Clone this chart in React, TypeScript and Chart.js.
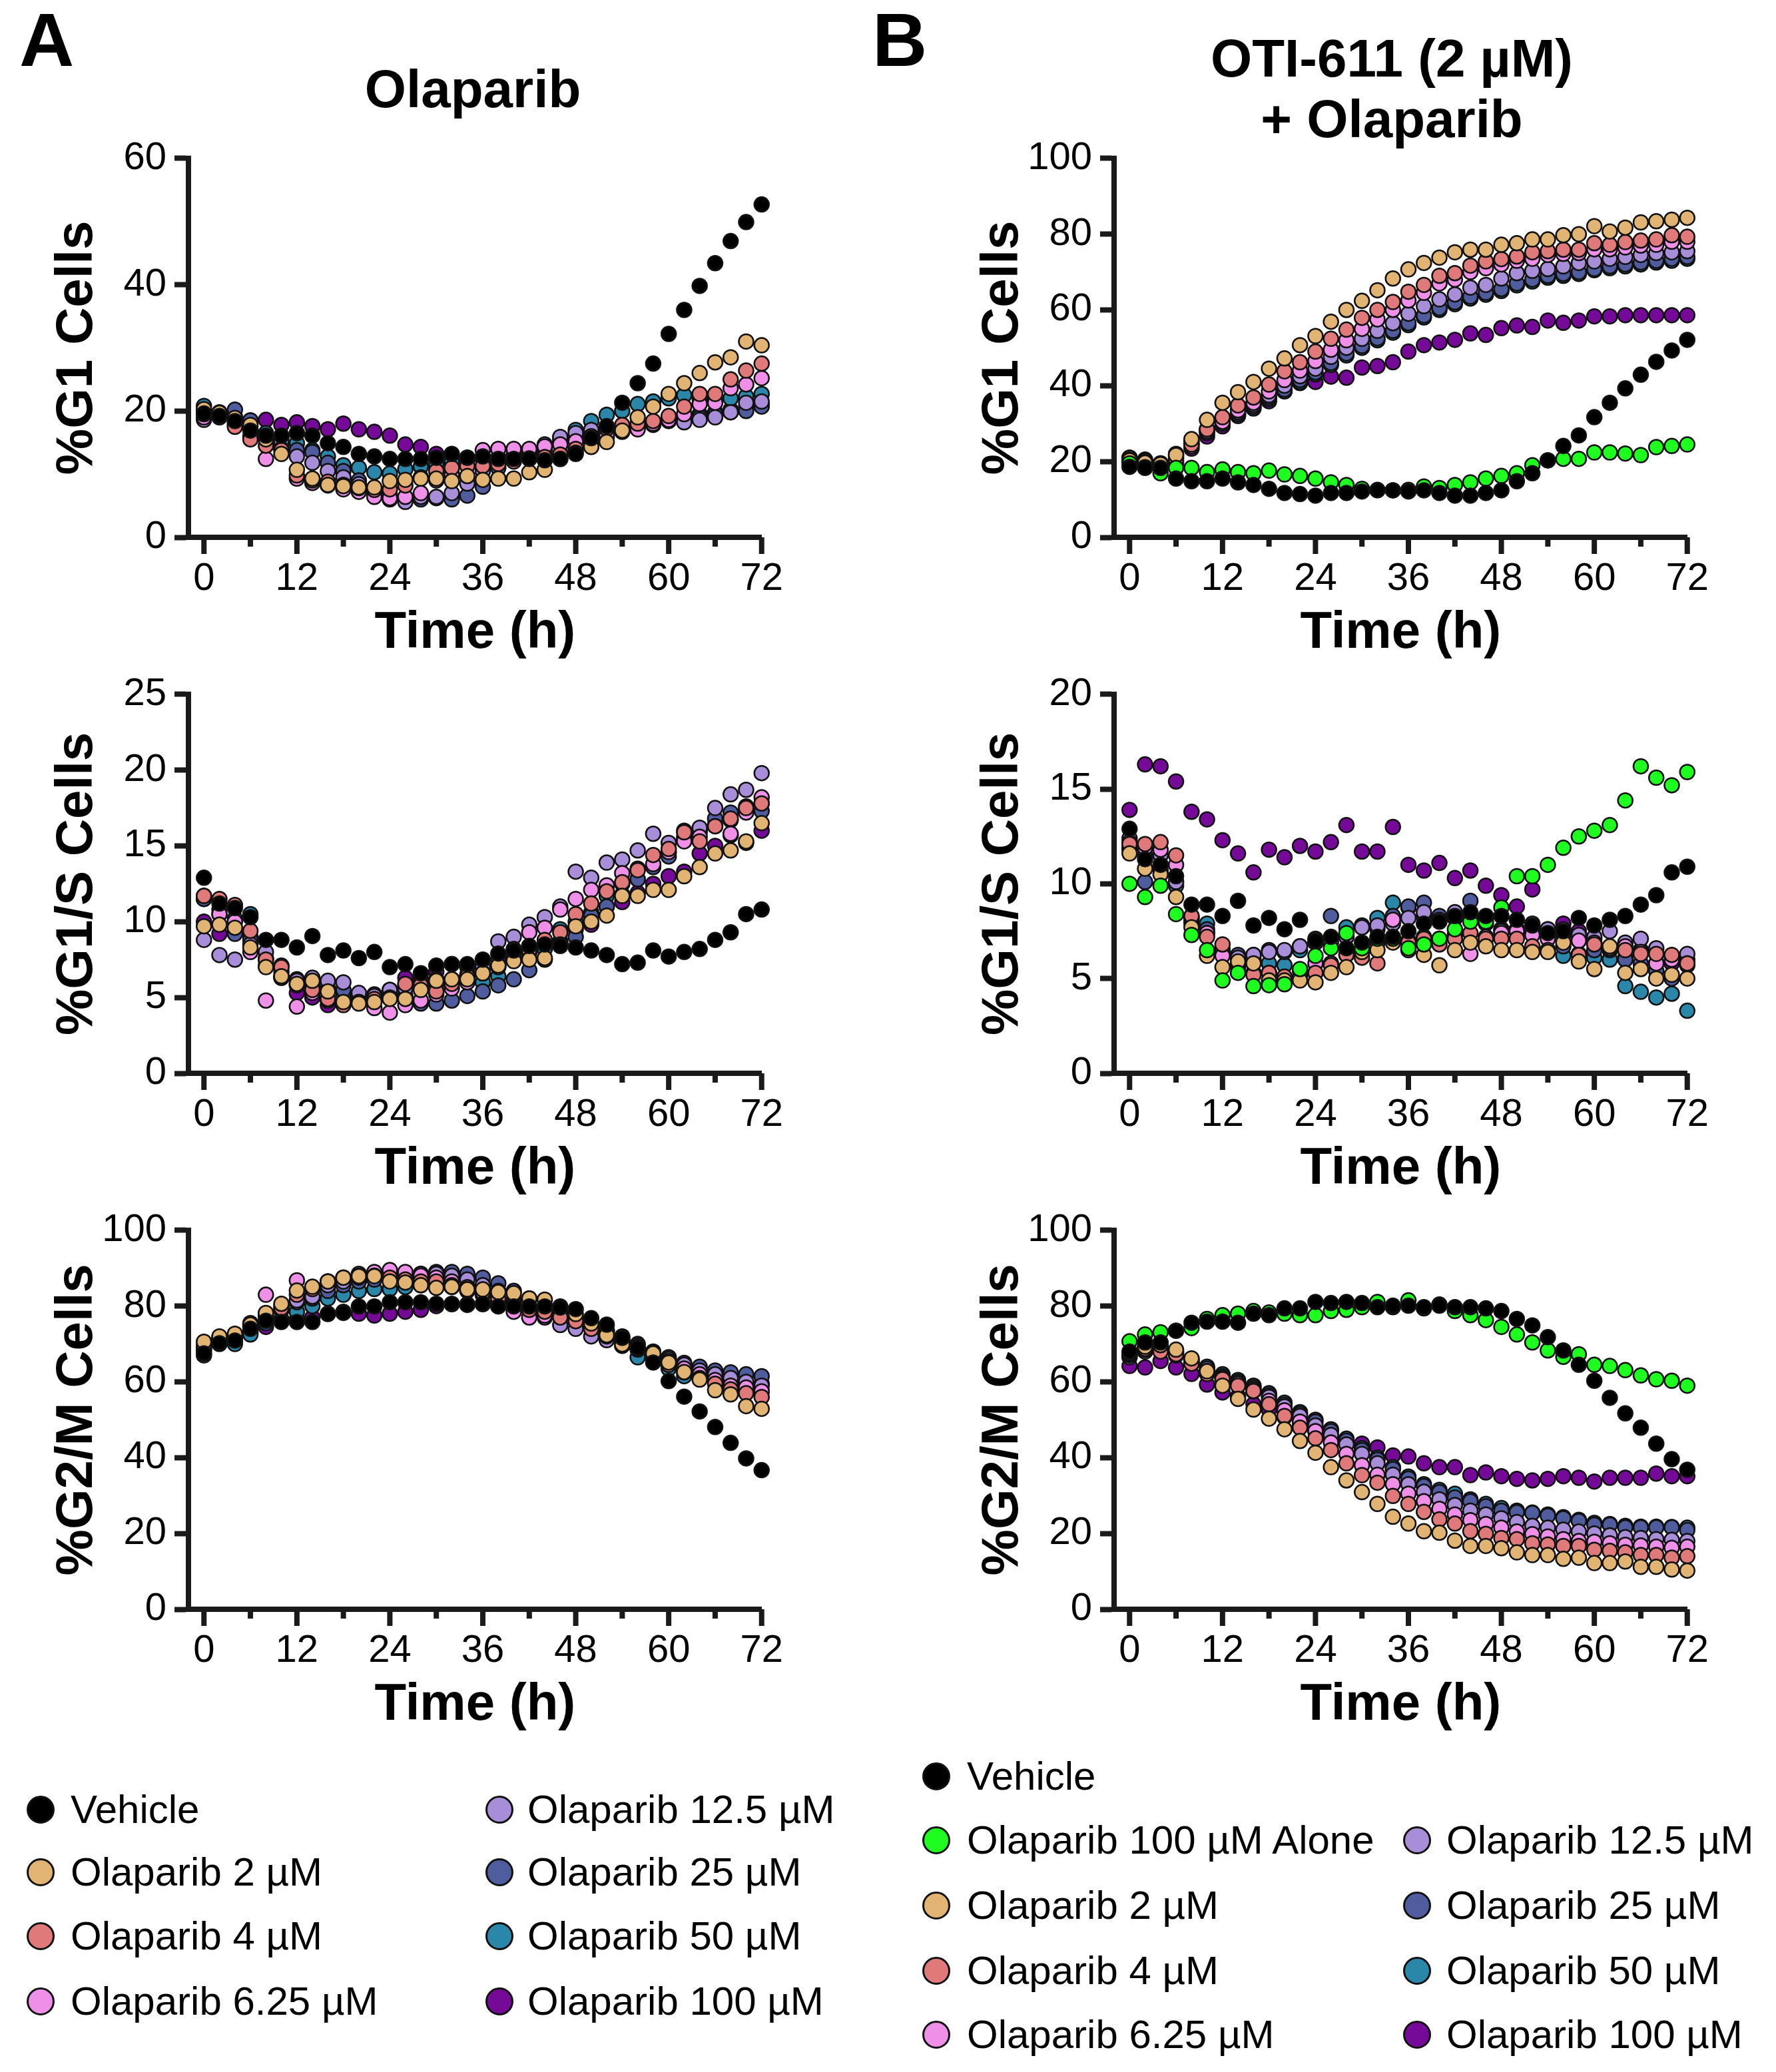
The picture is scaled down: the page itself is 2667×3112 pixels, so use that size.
import { useEffect, useRef } from "react";
import Chart from "chart.js/auto";

// time points (h) and axis ticks
const hours = [0, 2, 4, 6, 8, 10, 12, 14, 16, 18, 20, 22, 24, 26, 28, 30, 32, 34, 36, 38, 40, 42, 44, 46, 48, 50, 52, 54, 56, 58, 60, 62, 64, 66, 68, 70, 72];
const xTicks = [0, 6, 12, 18, 24, 30, 36, 42, 48, 54, 60, 66, 72];
const yTicksG1A = [0, 20, 40, 60];
const yTicksG1SA = [0, 5, 10, 15, 20, 25];
const yTicksG1SB = [0, 5, 10, 15, 20];
const yTicks100 = [0, 20, 40, 60, 80, 100];

// A: Olaparib alone — %G1
const aG1Vehicle = [19.6, 19.2, 18.4, 16.9, 16.1, 16.1, 16.5, 16.1, 14.9, 14.3, 13.2, 12.8, 12.4, 12.4, 12.4, 12.6, 13.2, 12.6, 12.8, 12.4, 12.4, 12.4, 12.2, 12.4, 13.2, 15.7, 17.6, 21.3, 24.4, 27.5, 32.2, 36.0, 39.8, 43.4, 46.9, 49.9, 52.7];
const aG1Ola2 = [20.3, 19.7, 18.9, 17.8, 15.5, 13.2, 10.7, 9.3, 8.3, 8.1, 7.9, 7.9, 8.9, 9.1, 9.3, 9.3, 8.9, 9.7, 9.1, 9.3, 9.3, 10.3, 10.7, 12.4, 13.4, 14.3, 15.1, 16.9, 19.0, 20.7, 22.7, 24.4, 26.0, 27.7, 28.5, 31.0, 30.4];
const aG1Ola4 = [19.5, 19.5, 17.5, 15.5, 14.5, 13.8, 9.8, 9.0, 8.8, 8.3, 7.8, 7.5, 7.6, 8.2, 9.5, 10.5, 11.0, 11.3, 11.3, 11.6, 12.0, 12.5, 12.7, 13.1, 14.0, 16.0, 17.2, 17.8, 18.0, 18.4, 19.2, 20.7, 22.7, 22.7, 25.0, 26.4, 27.5];
const aG1Ola625 = [19.0, 19.3, 17.8, 16.0, 12.4, 14.0, 9.3, 8.6, 8.2, 7.6, 7.2, 6.4, 6.2, 6.4, 7.0, 9.0, 10.0, 12.6, 13.8, 14.0, 14.0, 14.0, 14.4, 14.7, 15.2, 15.9, 16.2, 16.7, 17.1, 18.0, 18.6, 19.5, 21.1, 21.3, 23.6, 24.2, 25.2];
const aG1Ola125 = [18.6, 19.0, 18.2, 17.0, 16.0, 15.2, 12.8, 11.8, 10.5, 9.5, 8.4, 7.2, 6.0, 5.6, 6.4, 6.4, 7.0, 8.5, 10.5, 12.0, 13.0, 13.8, 14.7, 15.9, 16.5, 17.0, 17.3, 17.6, 17.8, 18.0, 18.4, 18.2, 18.6, 19.0, 19.8, 21.3, 21.5];
const aG1Ola25 = [20.0, 19.6, 20.2, 18.5, 16.0, 14.2, 13.8, 13.5, 11.8, 10.5, 9.0, 7.6, 6.6, 6.2, 6.0, 6.2, 6.0, 6.6, 8.0, 11.0, 12.5, 13.2, 14.0, 15.0, 15.6, 16.8, 17.0, 17.3, 17.6, 17.8, 18.5, 18.7, 19.0, 19.5, 19.8, 20.0, 20.7];
const aG1Ola50 = [20.8, 19.8, 19.0, 17.5, 16.5, 15.8, 14.9, 13.8, 12.8, 11.4, 11.0, 10.3, 10.1, 10.8, 11.2, 11.6, 12.0, 12.3, 12.5, 12.6, 12.8, 13.5, 14.5, 15.5, 17.0, 18.4, 19.4, 20.0, 21.1, 21.5, 22.0, 22.5, 22.0, 21.8, 22.0, 22.3, 22.7];
const aG1Ola100 = [19.8, 19.4, 19.0, 18.5, 18.6, 17.8, 18.2, 17.6, 17.1, 18.0, 17.1, 16.7, 16.1, 14.7, 14.3, 13.2, 12.8, 12.6, 12.4, 12.4, 12.5, 12.6, 12.8, 13.2, 14.0, 15.0, 16.0, 16.8, 17.5, 18.0, 18.5, 19.0, 19.5, 19.8, 20.2, 20.6, 21.0];

// A: %G1/S
const aG1SVehicle = [12.9, 11.2, 10.9, 10.3, 8.8, 8.8, 8.3, 9.05, 7.8, 8.1, 7.6, 8.0, 7.0, 7.2, 6.6, 7.1, 7.2, 7.2, 7.5, 7.9, 8.1, 8.4, 8.5, 8.4, 8.3, 8.1, 7.8, 7.2, 7.3, 8.1, 7.7, 8.0, 8.2, 8.8, 9.3, 10.5, 10.8];
const aG1SOla2 = [9.7, 9.8, 9.6, 8.3, 7.0, 6.4, 5.9, 6.1, 5.4, 4.7, 4.6, 4.7, 4.9, 4.9, 5.5, 6.1, 6.2, 6.2, 6.6, 7.1, 7.4, 7.5, 7.6, 8.5, 9.7, 10.0, 10.4, 11.7, 11.7, 12.1, 12.1, 13.0, 13.6, 14.5, 14.7, 15.3, 16.5];
const aG1SOla4 = [11.7, 11.5, 11.1, 9.4, 7.5, 7.0, 5.8, 5.5, 4.9, 4.5, 4.7, 4.9, 5.0, 5.9, 5.8, 5.4, 5.9, 6.4, 6.6, 7.0, 7.8, 8.1, 8.8, 9.3, 10.5, 11.2, 12.0, 12.6, 13.4, 14.4, 14.8, 15.9, 15.3, 16.3, 16.8, 17.5, 17.8];
const aG1SOla625 = [11.7, 10.5, 10.0, 8.0, 4.8, 7.1, 4.4, 5.3, 4.8, 4.6, 4.7, 4.3, 4.0, 4.5, 4.8, 5.2, 5.6, 6.0, 6.6, 7.1, 8.2, 9.3, 9.6, 10.8, 11.5, 12.1, 12.4, 13.2, 13.5, 13.8, 14.6, 15.3, 15.6, 16.3, 15.8, 17.2, 18.2];
const aG1SOla125 = [8.8, 7.8, 7.5, 8.5, 8.0, 6.3, 6.1, 6.3, 6.1, 6.0, 5.3, 5.1, 5.5, 5.6, 5.8, 5.9, 6.2, 6.4, 7.0, 8.7, 9.0, 9.8, 10.3, 11.0, 13.3, 12.9, 13.9, 14.1, 14.7, 15.8, 15.2, 16.0, 16.2, 17.5, 18.4, 18.7, 19.8];
const aG1SOla25 = [11.5, 10.5, 9.2, 8.8, 7.1, 6.3, 5.9, 5.7, 5.6, 5.5, 5.0, 5.2, 5.4, 5.1, 4.6, 4.6, 4.8, 5.1, 5.4, 5.8, 6.2, 6.8, 7.5, 8.6, 9.0, 10.4, 11.0, 11.8, 12.8, 13.6, 14.3, 15.4, 16.0, 16.8, 17.2, 17.6, 17.3];
const aG1SOla50 = [11.5, 10.8, 10.2, 10.5, 7.6, 6.7, 6.2, 5.9, 5.5, 5.2, 5.0, 5.1, 5.3, 5.8, 6.0, 6.2, 6.1, 6.5, 6.0, 6.4, 7.6, 8.0, 8.2, 9.5, 10.0, 10.6, 11.7, 12.5, 12.8, 13.7, 14.6, 15.6, 15.9, 16.4, 16.7, 17.4, 17.8];
const aG1SOla100 = [10.0, 9.2, 9.5, 9.0, 7.5, 6.4, 5.3, 5.0, 4.5, 4.7, 5.0, 5.1, 5.5, 6.3, 6.2, 6.7, 7.2, 7.0, 7.1, 7.5, 7.9, 8.0, 8.3, 8.7, 9.5, 9.8, 11.0, 11.3, 11.9, 12.5, 13.0, 13.3, 14.5, 15.0, 15.7, 15.2, 16.0];

// A: %G2/M
const aG2MVehicle = [67.5, 70.2, 70.9, 74.0, 76.1, 75.8, 75.8, 75.8, 77.9, 78.2, 79.9, 79.9, 81.0, 81.0, 81.0, 80.6, 80.6, 80.3, 80.6, 79.9, 79.9, 79.9, 79.9, 79.6, 79.2, 76.8, 75.1, 71.6, 68.9, 65.1, 60.2, 56.1, 52.2, 48.1, 43.9, 39.8, 36.7];
const aG2MOla2 = [70.6, 72.0, 72.7, 75.1, 78.2, 80.6, 84.1, 85.1, 86.5, 87.5, 87.9, 87.9, 86.5, 86.2, 85.5, 84.8, 85.1, 84.4, 84.4, 83.7, 83.4, 82.0, 81.7, 79.9, 77.9, 75.4, 72.3, 69.9, 68.9, 67.5, 65.1, 62.6, 60.6, 57.8, 56.7, 53.6, 52.9];
const aG2MOla4 = [69.5, 71.5, 72.0, 74.5, 78.0, 79.5, 83.0, 84.5, 86.5, 87.5, 88.0, 88.0, 87.5, 87.0, 86.5, 86.5, 85.5, 84.5, 83.5, 82.0, 80.5, 79.0, 78.5, 77.0, 76.0, 74.0, 72.0, 70.0, 68.5, 66.5, 64.5, 62.5, 61.0, 59.5, 58.0, 57.0, 56.0];
const aG2MOla625 = [69.0, 71.0, 72.5, 75.5, 83.0, 79.0, 86.8, 85.0, 86.5, 87.5, 88.5, 89.0, 89.5, 89.0, 88.0, 87.5, 86.5, 85.0, 83.0, 81.0, 78.5, 77.0, 77.5, 77.5, 76.5, 74.5, 72.5, 71.0, 69.0, 67.5, 65.5, 63.5, 62.0, 60.5, 59.0, 58.5, 57.5];
const aG2MOla125 = [69.0, 71.5, 72.0, 75.0, 77.5, 80.0, 81.5, 82.5, 85.5, 86.5, 87.5, 88.0, 88.5, 88.5, 88.5, 88.5, 88.0, 87.0, 85.5, 84.0, 81.5, 79.5, 77.0, 75.0, 74.0, 72.0, 71.0, 69.5, 69.0, 67.5, 66.0, 64.5, 63.0, 62.0, 61.0, 60.0, 59.0];
const aG2MOla25 = [68.5, 70.5, 71.5, 74.5, 77.0, 79.0, 81.0, 82.0, 84.0, 85.5, 86.5, 87.0, 87.5, 88.0, 88.5, 89.0, 89.0, 88.5, 87.5, 86.0, 84.0, 82.0, 80.0, 78.5, 77.0, 75.0, 73.5, 71.5, 69.5, 67.5, 66.5, 65.0, 64.0, 63.0, 62.5, 62.0, 61.5];
const aG2MOla50 = [67.0, 70.0, 70.0, 72.5, 75.5, 76.5, 78.5, 80.0, 82.0, 83.0, 84.0, 84.5, 84.5, 85.0, 85.5, 85.5, 85.0, 84.0, 83.0, 81.5, 80.5, 79.5, 78.5, 77.5, 76.5, 74.5, 73.5, 71.0, 66.5, 66.0, 63.5, 61.5, 61.0, 60.5, 60.0, 59.5, 59.5];
const aG2MOla100 = [68.0, 70.5, 71.0, 73.0, 74.5, 76.0, 76.5, 77.0, 78.0, 78.5, 78.0, 77.5, 78.0, 78.5, 79.0, 80.0, 80.5, 80.5, 80.5, 80.0, 79.5, 79.0, 78.5, 77.5, 76.5, 75.0, 73.5, 72.0, 70.0, 68.0, 66.0, 64.0, 62.5, 61.0, 59.5, 58.5, 57.5];

// B: OTI-611 (2 µM) + Olaparib — %G1
const bG1Vehicle = [18.6, 18.3, 18.3, 15.5, 14.8, 14.8, 15.5, 14.5, 13.8, 12.8, 11.7, 11.4, 11.0, 11.7, 11.7, 12.1, 12.4, 12.4, 12.1, 12.4, 11.7, 11.0, 11.0, 11.7, 12.4, 14.8, 16.9, 20.3, 24.1, 26.9, 31.7, 35.5, 39.3, 42.9, 46.3, 49.3, 52.1];
const bG1Alone = [19.5, 18.5, 16.9, 18.3, 18.3, 17.2, 17.9, 17.2, 16.9, 17.6, 16.6, 16.2, 15.5, 14.5, 13.8, 12.8, 12.5, 12.4, 12.5, 13.4, 13.0, 13.8, 14.5, 15.5, 16.2, 16.9, 19.0, 20.3, 20.7, 20.7, 22.4, 22.4, 22.1, 21.7, 23.8, 24.1, 24.5];
const bG1Ola2 = [20.3, 19.7, 19.3, 21.7, 25.9, 31.0, 35.5, 38.3, 41.0, 44.5, 47.2, 50.7, 53.1, 56.9, 60.0, 62.4, 65.2, 68.3, 70.7, 72.4, 73.8, 75.2, 75.9, 75.9, 77.2, 77.6, 78.6, 78.6, 79.7, 80.0, 82.1, 80.7, 81.7, 83.1, 83.4, 83.8, 84.3];
const bG1Ola4 = [20.0, 19.5, 19.0, 20.5, 24.5, 28.5, 31.7, 34.8, 36.9, 40.3, 43.8, 46.2, 49.0, 52.4, 54.8, 57.9, 60.0, 62.1, 64.8, 66.6, 69.0, 69.7, 71.7, 72.8, 73.4, 74.1, 75.2, 75.5, 75.9, 75.9, 77.6, 77.2, 77.9, 78.3, 78.6, 79.7, 79.3];
const bG1Ola625 = [20.5, 19.8, 19.0, 20.0, 24.0, 28.0, 30.5, 33.5, 35.5, 38.5, 41.5, 44.0, 46.5, 49.5, 52.0, 55.0, 57.5, 60.0, 62.5, 64.5, 67.0, 68.0, 70.0, 71.0, 72.0, 73.0, 73.5, 74.5, 74.8, 75.0, 76.0, 76.0, 76.5, 77.0, 77.2, 78.0, 78.0];
const bG1Ola125 = [21.0, 20.2, 19.5, 22.0, 25.5, 28.5, 31.0, 33.0, 35.0, 37.5, 40.0, 42.5, 44.5, 47.6, 50.0, 52.4, 54.5, 56.5, 59.0, 61.0, 62.8, 64.1, 65.9, 66.6, 68.3, 69.7, 70.3, 70.8, 71.5, 72.4, 72.8, 73.5, 74.0, 74.5, 75.0, 75.2, 75.5];
const bG1Ola25 = [20.5, 20.0, 19.0, 21.5, 25.0, 28.0, 30.5, 32.5, 34.5, 37.0, 39.0, 41.5, 43.5, 46.0, 48.5, 50.5, 52.5, 54.5, 56.5, 58.5, 60.5, 62.0, 63.5, 64.5, 65.5, 67.0, 68.0, 69.0, 69.5, 70.0, 70.8, 71.5, 72.0, 72.5, 73.0, 73.5, 74.0];
const bG1Ola50 = [20.8, 20.0, 19.2, 21.0, 24.5, 27.5, 30.0, 32.0, 34.0, 36.5, 38.5, 41.0, 43.0, 45.5, 48.0, 50.0, 52.0, 54.0, 56.0, 58.0, 60.0, 61.5, 63.0, 64.0, 65.0, 66.5, 67.5, 68.5, 69.0, 69.5, 70.5, 71.0, 71.5, 72.0, 72.5, 73.0, 73.5];
const bG1Ola100 = [21.0, 20.5, 19.5, 19.5, 23.4, 26.6, 29.3, 32.4, 35.2, 35.9, 38.6, 40.7, 41.0, 42.4, 42.1, 44.8, 45.2, 46.2, 49.0, 50.7, 51.4, 52.1, 53.8, 53.4, 55.2, 55.9, 55.5, 57.2, 56.6, 57.2, 58.3, 58.3, 58.6, 58.6, 58.6, 58.6, 58.6];

// B: %G1/S
const bG1SVehicle = [12.9, 11.3, 11.0, 10.4, 8.9, 8.9, 8.3, 9.1, 7.8, 8.2, 7.6, 8.1, 7.0, 7.2, 6.6, 6.9, 7.2, 7.2, 7.5, 7.9, 8.0, 8.3, 8.5, 8.3, 8.3, 8.1, 7.8, 7.4, 7.5, 8.2, 7.8, 8.1, 8.3, 8.9, 9.4, 10.6, 10.9];
const bG1SAlone = [10.0, 9.3, 9.9, 8.4, 7.3, 6.5, 4.9, 5.3, 4.6, 4.65, 4.7, 5.5, 6.2, 6.6, 7.4, 6.6, 7.1, 7.1, 6.6, 6.8, 7.1, 7.6, 8.0, 8.0, 8.75, 10.4, 10.4, 11.0, 11.9, 12.5, 12.8, 13.1, 14.4, 16.2, 15.6, 15.2, 15.9];
const bG1SOla2 = [11.6, 10.8, 10.5, 9.3, 7.7, 6.2, 5.6, 5.9, 5.8, 4.9, 4.9, 4.9, 4.8, 5.3, 5.6, 6.4, 6.5, 6.9, 6.5, 6.25, 5.7, 6.5, 6.9, 6.7, 6.5, 6.5, 6.4, 6.4, 6.9, 5.9, 5.5, 6.7, 5.3, 5.5, 5.0, 5.2, 5.0];
const bG1SOla4 = [12.1, 12.1, 12.2, 11.5, 8.3, 7.2, 6.8, 5.8, 5.2, 5.3, 5.1, 5.1, 5.3, 5.7, 6.25, 6.1, 5.8, 7.1, 6.9, 7.1, 6.8, 7.1, 7.4, 7.1, 7.1, 7.1, 6.7, 6.5, 7.4, 6.25, 6.8, 6.6, 6.5, 6.3, 6.3, 6.25, 5.8];
const bG1SOla625 = [12.2, 11.9, 11.8, 11.0, 8.2, 7.4, 6.2, 5.6, 5.3, 5.3, 5.0, 5.4, 5.8, 5.8, 6.25, 6.5, 6.9, 8.1, 7.0, 7.2, 7.1, 7.3, 6.3, 7.2, 7.4, 7.5, 7.3, 7.1, 7.3, 7.0, 6.9, 6.6, 6.7, 6.4, 5.8, 6.0, 5.8];
const bG1SOla125 = [12.4, 11.9, 11.5, 10.1, 8.2, 7.4, 6.4, 6.1, 6.25, 6.4, 6.5, 6.7, 6.9, 6.9, 7.2, 7.7, 7.8, 7.9, 8.2, 8.5, 8.1, 8.5, 8.2, 7.9, 7.5, 7.5, 7.9, 7.6, 7.6, 7.3, 7.2, 7.5, 6.9, 7.1, 6.6, 6.2, 6.3];
const bG1SOla25 = [11.9, 10.1, 10.7, 10.1, 8.0, 7.6, 6.5, 6.25, 6.25, 6.5, 6.4, 6.7, 7.1, 8.3, 7.2, 7.7, 7.6, 8.3, 8.8, 9.0, 8.3, 8.2, 9.1, 8.2, 7.6, 7.6, 7.4, 7.4, 6.7, 7.0, 6.5, 6.5, 6.0, 5.8, 5.4, 5.0, 6.0];
const bG1SOla50 = [11.8, 11.5, 11.0, 9.9, 7.9, 7.9, 6.5, 5.8, 6.0, 5.8, 5.7, 6.5, 6.9, 7.1, 7.7, 7.8, 8.2, 9.0, 8.75, 8.3, 8.2, 8.2, 8.3, 8.2, 7.6, 7.6, 7.5, 7.4, 6.2, 6.3, 6.1, 6.0, 4.6, 4.3, 4.0, 4.2, 3.3];
const bG1SOla100 = [13.9, 16.3, 16.2, 15.4, 13.8, 13.4, 12.3, 11.6, 10.6, 11.8, 11.4, 12.0, 11.7, 12.2, 13.1, 11.7, 11.7, 13.0, 11.0, 10.7, 11.1, 10.3, 10.7, 9.9, 9.4, 8.8, 9.7, 7.6, 7.9, 7.5, 7.1, 6.5, 6.1, 6.5, 5.8, 5.8, 5.7];

// B: %G2/M
const bG2MVehicle = [68.0, 70.4, 70.4, 73.5, 75.6, 75.9, 75.9, 75.6, 78.0, 77.6, 79.4, 79.4, 81.1, 80.8, 81.1, 80.8, 79.7, 80.1, 80.1, 79.7, 80.1, 79.7, 79.7, 79.4, 78.7, 76.6, 74.9, 71.8, 68.3, 64.5, 60.3, 55.8, 51.7, 47.9, 43.7, 39.6, 36.8];
const bG2MAlone = [70.7, 72.5, 73.1, 73.5, 74.2, 76.6, 77.6, 78.0, 78.7, 78.3, 78.0, 77.6, 77.6, 78.7, 79.0, 79.7, 81.1, 79.7, 81.5, 79.4, 80.4, 78.7, 77.6, 76.3, 74.5, 72.5, 70.4, 68.3, 66.6, 67.3, 64.5, 64.2, 63.1, 61.7, 60.7, 60.3, 59.0];
const bG2MOla2 = [67.6, 69.3, 69.7, 68.5, 66.2, 62.8, 59.0, 55.5, 52.7, 50.3, 47.5, 44.4, 41.3, 37.5, 34.0, 30.9, 27.8, 24.4, 22.6, 20.6, 20.2, 18.1, 16.7, 16.7, 16.1, 15.0, 14.3, 14.3, 13.3, 13.6, 12.2, 12.2, 12.6, 11.2, 11.2, 10.5, 10.2];
const bG2MOla4 = [67.3, 68.7, 68.0, 67.3, 64.8, 62.1, 60.7, 59.0, 57.6, 54.1, 51.0, 47.9, 45.1, 42.0, 38.5, 35.4, 33.4, 29.9, 27.8, 25.7, 23.7, 22.6, 20.6, 19.9, 18.8, 18.5, 17.4, 17.1, 16.7, 16.7, 15.7, 15.4, 15.0, 14.3, 14.3, 13.6, 14.0];
const bG2MOla625 = [67.0, 68.5, 68.2, 67.8, 65.5, 62.8, 61.0, 59.5, 57.5, 55.0, 52.5, 49.5, 47.0, 44.0, 41.0, 38.0, 35.5, 33.0, 30.5, 28.5, 26.5, 25.0, 23.5, 22.5, 21.5, 20.5, 19.8, 19.2, 18.5, 18.0, 17.8, 17.4, 17.0, 16.8, 16.5, 16.2, 16.5];
const bG2MOla125 = [66.5, 68.0, 68.5, 67.0, 65.0, 62.5, 61.0, 59.5, 58.0, 56.0, 53.5, 51.0, 48.5, 46.0, 43.5, 41.0, 38.5, 35.5, 33.0, 31.0, 29.0, 27.5, 26.0, 25.0, 24.0, 23.0, 22.0, 21.5, 21.0, 20.5, 20.0, 19.5, 19.0, 18.8, 18.5, 18.3, 18.0];
const bG2MOla25 = [67.0, 68.5, 69.0, 67.5, 65.5, 63.5, 61.5, 60.0, 58.5, 56.5, 54.0, 51.5, 49.5, 47.0, 44.5, 42.0, 39.5, 37.0, 34.5, 32.5, 30.9, 29.5, 28.5, 27.2, 26.0, 25.6, 25.4, 24.7, 24.0, 23.3, 22.3, 22.3, 21.6, 21.6, 21.6, 21.6, 20.9];
const bG2MOla50 = [67.5, 69.0, 69.5, 68.0, 66.0, 64.0, 62.0, 60.5, 59.0, 57.0, 54.5, 52.0, 50.0, 47.5, 45.0, 42.5, 40.0, 37.5, 35.0, 33.0, 31.5, 30.5, 29.0, 27.8, 26.7, 26.0, 25.5, 25.0, 24.3, 23.6, 22.8, 22.5, 22.0, 21.8, 21.8, 21.7, 21.5];
const bG2MOla100 = [64.2, 63.8, 65.5, 63.8, 62.1, 59.3, 57.2, 56.2, 54.1, 52.7, 50.7, 48.6, 46.9, 45.1, 44.1, 43.7, 42.7, 40.6, 40.3, 38.5, 37.5, 37.5, 35.4, 36.1, 35.1, 34.4, 34.0, 34.4, 35.1, 34.7, 33.7, 34.7, 34.7, 34.7, 35.8, 35.1, 35.1];

const FONT = "'Liberation Sans', Arial, Helvetica, sans-serif";
const AXIS = "#1a1a1a";
const C = {
  vehicle: "#000000",
  alone: "#1ffc1f",
  ola2: "#e2b474",
  ola4: "#e07a7a",
  ola625: "#ee90e8",
  ola125: "#a88dd8",
  ola25: "#4f5d9e",
  ola50: "#2b87aa",
  ola100: "#760a98",
};

// layout (px): chart area of every panel is the same size
const AREA_W = 863;
const AREA_H = 576;
const PAD_L = 270;
const PAD_T = 40;
const PAD_R = 50;
const PAD_B = 190;
const CW = PAD_L + AREA_W + PAD_R;
const CH = PAD_T + AREA_H + PAD_B;
const COL_A = 283;
const COL_B = 1673;
const ROWS = [231, 1036, 1841];

type Series = { color: string; values: number[] };

interface PanelProps {
  left: number;
  top: number;
  yMax: number;
  yTicks: number[];
  yTitle: string;
  series: Series[];
}

// tick marks on x, axis corners and both axis titles
const framePlugin = {
  id: "frame",
  afterDraw(chart: any, _args: any, opts: any) {
    const { ctx, chartArea, scales } = chart;
    ctx.save();
    ctx.fillStyle = AXIS;
    xTicks.forEach((v) => {
      const px = scales.x.getPixelForValue(v);
      const len = v % 12 === 0 ? 25 : 14;
      ctx.fillRect(px - 4, chartArea.bottom, 8, len);
    });
    ctx.fillRect(chartArea.left - 4, chartArea.bottom - 4, 8, 8);
    ctx.fillRect(chartArea.left - 4, chartArea.top - 4, 8, 4);

    ctx.fillStyle = "#000";
    ctx.font = `bold 78px ${FONT}`;
    ctx.textAlign = "center";
    ctx.textBaseline = "middle";
    ctx.fillText("Time (h)", (chartArea.left + chartArea.right) / 2, chartArea.bottom + 144);
    ctx.translate(chartArea.left - 167, (chartArea.top + chartArea.bottom) / 2);
    ctx.rotate(-Math.PI / 2);
    ctx.fillText(opts.yTitle, 0, 0);
    ctx.restore();
  },
};

function Panel({ left, top, yMax, yTicks, yTitle, series }: PanelProps) {
  const canvasRef = useRef<HTMLCanvasElement>(null);

  useEffect(() => {
    if (!canvasRef.current) return;
    const tickFont = { family: FONT, size: 58 };
    const chart = new Chart(canvasRef.current, {
      type: "scatter",
      data: {
        datasets: series.map((s) => ({
          data: hours.map((h, i) => ({ x: h, y: s.values[i] })),
          backgroundColor: s.color,
          borderColor: "#111111",
          borderWidth: 2.5,
          pointRadius: 11,
          pointHoverRadius: 11,
          clip: false,
        })),
      },
      options: {
        animation: false,
        responsive: false,
        events: [],
        layout: { padding: { top: PAD_T, right: PAD_R, left: 0, bottom: 0 } },
        plugins: {
          legend: { display: false },
          tooltip: { enabled: false },
          frame: { yTitle },
        } as any,
        scales: {
          x: {
            type: "linear",
            min: -2,
            max: 72,
            afterBuildTicks: (scale: any) => {
              scale.ticks = xTicks.map((value) => ({ value }));
            },
            afterFit: (scale: any) => {
              scale.height = PAD_B;
            },
            grid: { display: false },
            border: { display: true, color: AXIS, width: 8 },
            ticks: {
              autoSkip: false,
              maxRotation: 0,
              padding: 20,
              color: "#000",
              font: tickFont,
              callback: (value: any) => (Number(value) % 12 === 0 ? String(value) : ""),
            },
          },
          y: {
            min: 0,
            max: yMax,
            afterBuildTicks: (scale: any) => {
              scale.ticks = yTicks.map((value) => ({ value }));
            },
            afterFit: (scale: any) => {
              scale.width = PAD_L;
            },
            grid: {
              display: true,
              drawOnChartArea: false,
              drawTicks: true,
              tickLength: 21,
              tickWidth: 8,
              tickColor: AXIS,
            },
            border: { display: true, color: AXIS, width: 8 },
            ticks: { padding: 12, color: "#000", font: tickFont },
          },
        },
      },
      plugins: [framePlugin],
    });
    return () => chart.destroy();
  }, [yMax, yTicks, yTitle, series]);

  return (
    <canvas
      ref={canvasRef}
      width={CW}
      height={CH}
      style={{ position: "absolute", left: left - PAD_L, top: top - PAD_T, width: CW, height: CH }}
    />
  );
}

const seriesA = (v: number[][]): Series[] =>
  [C.vehicle, C.ola2, C.ola4, C.ola625, C.ola125, C.ola25, C.ola50, C.ola100].map((color, i) => ({ color, values: v[i] }));
const seriesB = (v: number[][]): Series[] =>
  [C.vehicle, C.alone, C.ola2, C.ola4, C.ola625, C.ola125, C.ola25, C.ola50, C.ola100].map((color, i) => ({ color, values: v[i] }));

const panelsA = [
  seriesA([aG1Vehicle, aG1Ola2, aG1Ola4, aG1Ola625, aG1Ola125, aG1Ola25, aG1Ola50, aG1Ola100]),
  seriesA([aG1SVehicle, aG1SOla2, aG1SOla4, aG1SOla625, aG1SOla125, aG1SOla25, aG1SOla50, aG1SOla100]),
  seriesA([aG2MVehicle, aG2MOla2, aG2MOla4, aG2MOla625, aG2MOla125, aG2MOla25, aG2MOla50, aG2MOla100]),
];
const panelsB = [
  seriesB([bG1Vehicle, bG1Alone, bG1Ola2, bG1Ola4, bG1Ola625, bG1Ola125, bG1Ola25, bG1Ola50, bG1Ola100]),
  seriesB([bG1SVehicle, bG1SAlone, bG1SOla2, bG1SOla4, bG1SOla625, bG1SOla125, bG1SOla25, bG1SOla50, bG1SOla100]),
  seriesB([bG2MVehicle, bG2MAlone, bG2MOla2, bG2MOla4, bG2MOla625, bG2MOla125, bG2MOla25, bG2MOla50, bG2MOla100]),
];

const text = (left: number, baseline: number, size: number, bold: boolean, center = false): React.CSSProperties => ({
  position: "absolute",
  left,
  top: baseline - 0.8465 * size,
  fontFamily: FONT,
  fontSize: size,
  fontWeight: bold ? "bold" : "normal",
  lineHeight: 1,
  whiteSpace: "nowrap",
  color: "#000",
  transform: center ? "translateX(-50%)" : undefined,
});

function LegendItem({ x, textX, y, color, label }: { x: number; textX: number; y: number; color: string; label: string }) {
  return (
    <>
      <div
        style={{
          position: "absolute",
          left: x - 21,
          top: y - 21,
          width: 42,
          height: 42,
          borderRadius: "50%",
          background: color,
          border: "3.5px solid #111",
          boxSizing: "border-box",
        }}
      />
      <div style={{ ...text(textX, y + 21, 60, false) }}>{label}</div>
    </>
  );
}

export default function App() {
  return (
    <div style={{ position: "relative", width: 2667, height: 3112, background: "#fff", overflow: "hidden" }}>
      <style>{"body{margin:0}"}</style>

      <div style={text(29, 100, 114, true)}>A</div>
      <div style={text(1310, 100, 114, true)}>B</div>
      <div style={text(710, 162, 80, true, true)}>Olaparib</div>
      <div style={text(2090, 116, 80, true, true)}>OTI-611 (2 µM)</div>
      <div style={text(2090, 207, 80, true, true)}>+ Olaparib</div>

      <Panel left={COL_A} top={ROWS[0]} yMax={60} yTicks={yTicksG1A} yTitle="%G1 Cells" series={panelsA[0]} />
      <Panel left={COL_A} top={ROWS[1]} yMax={25} yTicks={yTicksG1SA} yTitle="%G1/S Cells" series={panelsA[1]} />
      <Panel left={COL_A} top={ROWS[2]} yMax={100} yTicks={yTicks100} yTitle="%G2/M Cells" series={panelsA[2]} />
      <Panel left={COL_B} top={ROWS[0]} yMax={100} yTicks={yTicks100} yTitle="%G1 Cells" series={panelsB[0]} />
      <Panel left={COL_B} top={ROWS[1]} yMax={20} yTicks={yTicksG1SB} yTitle="%G1/S Cells" series={panelsB[1]} />
      <Panel left={COL_B} top={ROWS[2]} yMax={100} yTicks={yTicks100} yTitle="%G2/M Cells" series={panelsB[2]} />

      <LegendItem x={61} textX={106} y={2718} color={C.vehicle} label="Vehicle" />
      <LegendItem x={61} textX={106} y={2812} color={C.ola2} label="Olaparib 2 µM" />
      <LegendItem x={61} textX={106} y={2908} color={C.ola4} label="Olaparib 4 µM" />
      <LegendItem x={61} textX={106} y={3006} color={C.ola625} label="Olaparib 6.25 µM" />
      <LegendItem x={750} textX={792} y={2718} color={C.ola125} label="Olaparib 12.5 µM" />
      <LegendItem x={750} textX={792} y={2812} color={C.ola25} label="Olaparib 25 µM" />
      <LegendItem x={750} textX={792} y={2908} color={C.ola50} label="Olaparib 50 µM" />
      <LegendItem x={750} textX={792} y={3006} color={C.ola100} label="Olaparib 100 µM" />

      <LegendItem x={1406} textX={1452} y={2668} color={C.vehicle} label="Vehicle" />
      <LegendItem x={1406} textX={1452} y={2764} color={C.alone} label="Olaparib 100 µM Alone" />
      <LegendItem x={1406} textX={1452} y={2862} color={C.ola2} label="Olaparib 2 µM" />
      <LegendItem x={1406} textX={1452} y={2960} color={C.ola4} label="Olaparib 4 µM" />
      <LegendItem x={1406} textX={1452} y={3056} color={C.ola625} label="Olaparib 6.25 µM" />
      <LegendItem x={2128} textX={2172} y={2764} color={C.ola125} label="Olaparib 12.5 µM" />
      <LegendItem x={2128} textX={2172} y={2862} color={C.ola25} label="Olaparib 25 µM" />
      <LegendItem x={2128} textX={2172} y={2960} color={C.ola50} label="Olaparib 50 µM" />
      <LegendItem x={2128} textX={2172} y={3056} color={C.ola100} label="Olaparib 100 µM" />
    </div>
  );
}
